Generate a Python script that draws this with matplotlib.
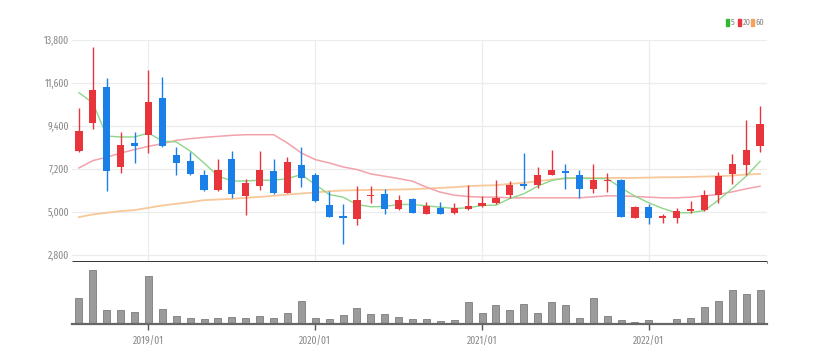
import matplotlib
matplotlib.use("Agg")
import matplotlib.pyplot as plt
import numpy as np

# =======================
# Données mensuelles (2018/08 - 2022/09)
# =======================

months = ["2018/08", "2018/09", "2018/10", "2018/11", "2018/12",
          "2019/01", "2019/02", "2019/03", "2019/04", "2019/05", "2019/06",
          "2019/07", "2019/08", "2019/09", "2019/10", "2019/11", "2019/12",
          "2020/01", "2020/02", "2020/03", "2020/04", "2020/05", "2020/06",
          "2020/07", "2020/08", "2020/09", "2020/10", "2020/11", "2020/12",
          "2021/01", "2021/02", "2021/03", "2021/04", "2021/05", "2021/06",
          "2021/07", "2021/08", "2021/09", "2021/10", "2021/11", "2021/12",
          "2022/01", "2022/02", "2022/03", "2022/04", "2022/05", "2022/06",
          "2022/07", "2022/08", "2022/09"]

opens = [8139, 9550, 11386, 7289, 8547, 8955, 10825, 7901, 7629, 6881,
         6150, 7714, 5810, 6320, 7119, 5963, 7391, 6915, 5351, 4790,
         4620, 5810, 5946, 5164, 5674, 4909, 5215, 4926, 5130, 5300,
         5470, 5861, 6439, 6405, 6915, 7119, 6915, 6201, 6575, 6626,
         4671, 5266, 4671, 4705, 5045, 5096, 5861, 6966, 7425, 8394]
closes = [9125, 11250, 7085, 8445, 8360, 10604, 8394, 7510, 6949, 6150,
          7170, 5946, 6473, 7153, 5980, 7544, 6745, 5555, 4756, 4705,
          5606, 5895, 5130, 5623, 4926, 5300, 4875, 5181, 5300, 5470,
          5725, 6371, 6320, 6881, 7136, 7000, 6201, 6660, 6660, 4739,
          5249, 4705, 4790, 5045, 5147, 5861, 6830, 7476, 8190, 9499]
highs = [10315, 13460, 11879, 9074, 9074, 12270, 11930, 8326, 8071, 7136,
         7731, 8105, 6711, 8105, 7731, 7800, 8326, 6980, 6099, 5385,
         6320, 6320, 6201, 5895, 5725, 5504, 5504, 5470, 6405, 5810,
         6660, 6575, 8020, 7306, 8156, 7476, 7136, 7476, 7000, 6700,
         5300, 5385, 4909, 5215, 5555, 6116, 7051, 7969, 9720, 10400]
lows = [8071, 9261, 6065, 7000, 7510, 8020, 8309, 6915, 6900, 6065,
        6100, 5691, 4824, 6150, 5930, 5963, 6269, 5521, 4740, 3379,
        4331, 5470, 4875, 5079, 4926, 4875, 4875, 4875, 5079, 5249,
        5385, 5725, 6201, 6235, 6881, 6201, 5691, 5980, 5998, 4739,
        4671, 4399, 4450, 4416, 4960, 5045, 5470, 6456, 6915, 8071]

ma5 = [11104, 10577, 8888, 8838, 8838, 9042, 8633, 8582, 8121, 7507,
       6842, 6586, 6586, 6626, 6626, 6711, 6915, 6405, 5895, 5759,
       5385, 5266, 5283, 5385, 5385, 5317, 5249, 5181, 5215, 5334,
       5351, 5691, 5929, 6320, 6609, 6745, 6728, 6711, 6711, 6235,
       5810, 5470, 5181, 4960, 4960, 5079, 5606, 6201, 6830, 7595]
ma20 = [7255, 7629, 7799, 8020, 8190, 8360, 8496, 8666, 8751, 8819,
        8870, 8921, 8955, 8955, 8955, 8530, 8020, 7680, 7510, 7306,
        7170, 6949, 6830, 6711, 6575, 6269, 6014, 5861, 5793, 5759,
        5759, 5725, 5725, 5725, 5725, 5725, 5725, 5776, 5827, 5827,
        5793, 5759, 5725, 5725, 5759, 5827, 5895, 6031, 6184, 6320]
ma60 = [4739, 4875, 4960, 5045, 5096, 5215, 5334, 5419, 5504, 5606,
        5640, 5674, 5725, 5776, 5827, 5895, 5946, 5997, 6065, 6099,
        6116, 6133, 6133, 6150, 6167, 6201, 6235, 6269, 6320, 6354,
        6371, 6439, 6490, 6575, 6660, 6711, 6745, 6745, 6745, 6745,
        6745, 6762, 6779, 6779, 6796, 6813, 6830, 6864, 6915, 6949]

volumes = [77, 162, 42, 42, 37, 142, 44, 24, 17, 14,
           17, 22, 17, 24, 17, 34, 69, 19, 14, 27,
           49, 29, 29, 22, 14, 14, 9, 12, 67, 32,
           57, 42, 59, 34, 65, 57, 19, 77, 24, 12,
           7, 12, 2, 14, 17, 52, 69, 102, 89, 102]

yticks = [2800, 5000, 7200, 9400, 11600, 13800]
year_ticks = ["2019/01", "2020/01", "2021/01", "2022/01"]
legend_labels = ["5", "20", "60"]
legend_colors = ["#33b833", "#e8353b", "#f5a25a"]

UP = "#e8353b"
DOWN = "#1b7fe8"
C5 = "#8ed68a"
C20 = "#f3a1aa"
C60 = "#f8c89a"

plt.rcParams["font.family"] = ["Fira Sans Extra Condensed", "DejaVu Sans"]

W, H = 817, 364
fig = plt.figure(figsize=(W / 100, H / 100), dpi=100)

# axes placées en pixels : prix de y=40 à 262, volume de 262 à 324
x0, x1 = 72, 767
ax = fig.add_axes([x0 / W, 1 - 262 / H, (x1 - x0) / W, (262 - 40) / H])
axv = fig.add_axes([x0 / W, 1 - 324 / H, (x1 - x0) / W, (324 - 262) / H])

x = np.arange(len(months))
xpos = [months.index(m) for m in year_ticks]

# --- prix ---
per_px = 2200 / 43
ax.set_ylim(2800 - 7 * per_px, 13800)
ax.set_xlim(-0.5, len(months) - 0.5)
ax.set_yticks(yticks)
ax.set_yticklabels([f"{v:,}" for v in yticks])
ax.set_xticks(xpos)
ax.set_xticklabels([])
ax.grid(True, color="#ececec", linewidth=0.9)
ax.set_axisbelow(True)
for s in ["top", "right", "left"]:
    ax.spines[s].set_visible(False)
ax.spines["bottom"].set_color("#222222")
ax.spines["bottom"].set_linewidth(2)
ax.spines["bottom"].set_capstyle("butt")
ax.tick_params(axis="y", length=0, pad=2, labelsize=7.5, labelcolor="#8a8a8a")
ax.tick_params(axis="x", length=0)

ax.plot(x, ma60, color=C60, lw=1.3, zorder=2)
ax.plot(x, ma20, color=C20, lw=1.1, zorder=2)
ax.plot(x, ma5, color=C5, lw=1.0, zorder=2)

min_h = 1.5 * per_px
for i in x:
    o, c = opens[i], closes[i]
    col = UP if c >= o else DOWN
    ax.vlines(i, lows[i], highs[i], color=col, lw=1, zorder=3)
    bottom = min(o, c)
    h = max(abs(c - o), min_h)
    ax.bar(i, h, bottom=bottom, width=0.52, color=col, zorder=4, linewidth=0)

# --- volume ---
axv.bar(x, volumes, width=0.5, color="#9b9b9b", edgecolor="#7d7d7d", linewidth=0.6)
axv.set_xlim(-0.5, len(months) - 0.5)
axv.set_ylim(0, 185)
axv.set_yticks([])
axv.set_xticks(xpos)
axv.set_xticklabels(year_ticks)
for s in ["top", "right", "left"]:
    axv.spines[s].set_visible(False)
axv.spines["bottom"].set_color("#666666")
axv.spines["bottom"].set_linewidth(1.6)
axv.tick_params(axis="x", length=4, width=1, color="#555555", pad=5,
                labelsize=7.5, labelcolor="#8a8a8a")

# --- légende ---
sq_x = [726, 738, 751]
ly = 22.5
for lab, col, sx in zip(legend_labels, legend_colors, sq_x):
    fig.patches.append(plt.Rectangle((sx / W, 1 - (ly + 3.5) / H), 3 / W, 7 / H,
                                     transform=fig.transFigure, color=col))
    fig.text((sx + 4.5) / W, 1 - ly / H, lab, fontsize=6.5, color="#8a8a8a",
             va="center", ha="left")

fig.savefig("out.png", dpi=100)
